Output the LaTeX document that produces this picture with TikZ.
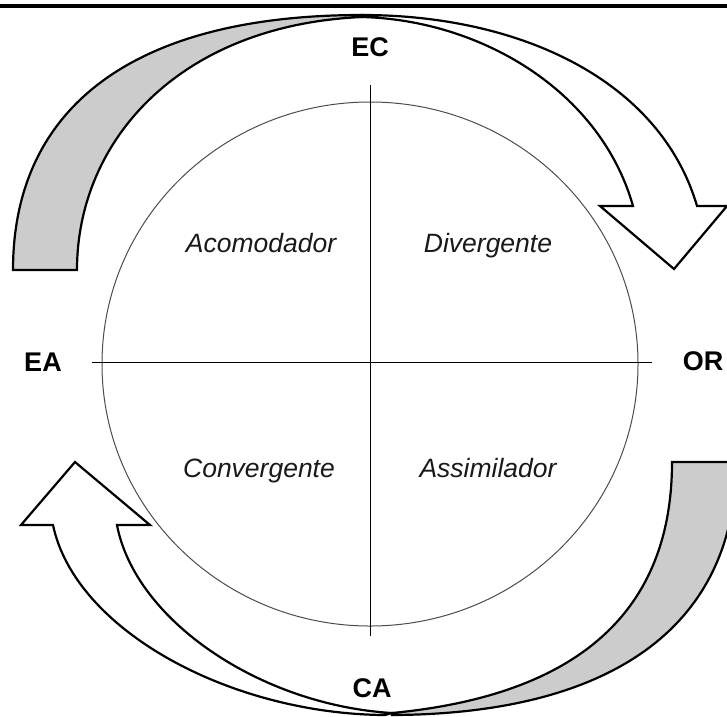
\documentclass[tikz,border=0pt]{standalone}
\usepackage{fontspec}
\setmainfont{Liberation Sans}
\begin{document}
\begin{tikzpicture}[x=1pt,y=-1pt,
  band/.style={draw=black,line width=2.2pt,line join=miter,fill=white},
  backband/.style={band,fill=black!20},
  axis/.style={draw=black,line width=1pt},
  pole/.style={font=\fontsize{27}{30}\selectfont\bfseries},
  style/.style={font=\fontsize{26.5}{30}\selectfont\itshape,anchor=base,text=black!90}]
\useasboundingbox (0,0) rectangle (727,716);
\fill[black] (0,4) rectangle (727,7.5);
\begin{scope}
\clip (0,0) rectangle (727,716);
% top: grey back band, white arrow to OR
\path[backband] (13,270) .. controls (13,110) and (130,15) .. (362,15)
  -- (362,17) .. controls (180,25) and (77,140) .. (77,270) -- cycle;
\path[band] (362,15) .. controls (520,15) and (660,80) .. (697,206)
  -- (727,206) -- (674,269) -- (600,206) -- (633,206)
  .. controls (600,90) and (480,20) .. (362,17) -- cycle;
% bottom: white arrow to EA, grey back band
\path[band] (21,525) -- (75,462) -- (150,525) -- (117,525)
  .. controls (135,620) and (260,705) .. (392,713)
  -- (385,715) .. controls (230,714) and (75,630) .. (53,525) -- cycle;
\path[backband] (672,462) -- (736,462) .. controls (736,620) and (620,714) .. (392,715)
  -- (392,713) .. controls (580,695) and (672,610) .. (672,462) -- cycle;
\end{scope}
% circle and axes
\draw[black!70,line width=1pt] (370,364) ellipse [x radius=268pt, y radius=262pt];
\coordinate (top) at (370,85);
\coordinate (bot) at (370,636);
\coordinate (lft) at (92,362);
\coordinate (rgt) at (652,362);
\draw[axis] (top) -- (bot);
\draw[axis] (lft) -- (rgt);
% labels
\node[pole] (ec) at (370,47) {EC};
\node[pole] (ea) at (43,362) {EA};
\node[pole] (or) at (703,361) {OR};
\node[pole] (ca) at (372,688) {CA};
\node[style] (aco) at (261,252) {Acomodador};
\node[style] (div) at (488,252) {Divergente};
\node[style] (con) at (259,477) {Convergente};
\node[style] (ass) at (488,477) {Assimilador};
\end{tikzpicture}
\end{document}
